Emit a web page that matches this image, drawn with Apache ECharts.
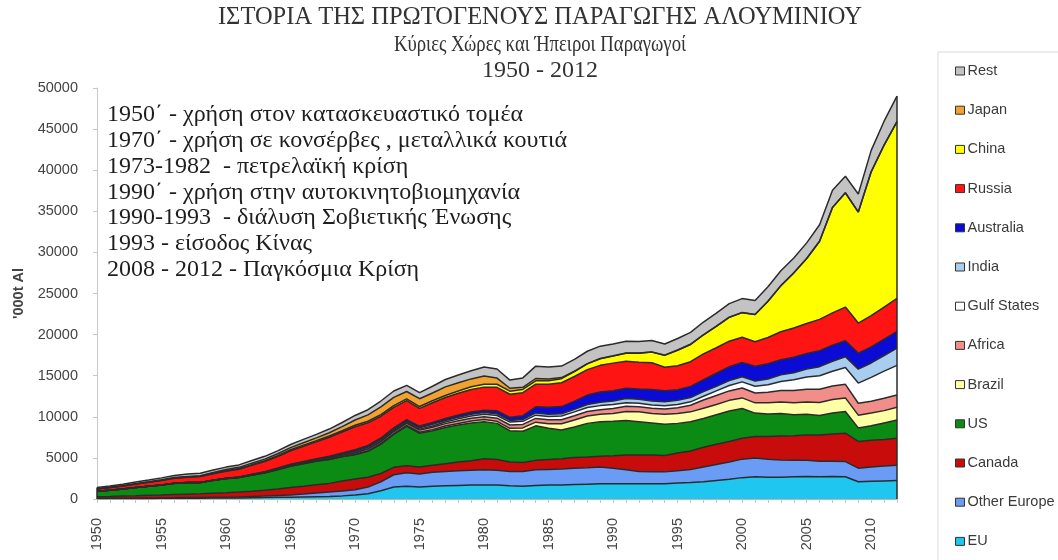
<!DOCTYPE html>
<html>
<head>
<meta charset="utf-8">
<script src="https://cdn.jsdelivr.net/npm/echarts@6/dist/echarts.min.js"></script>
<style>
  html, body { margin: 0; padding: 0; background: #fff; }
  #chart { width: 1058px; height: 560px; }
</style>
</head>
<body>
<div id="chart"></div>
<script>
// Primary aluminium production by producer, thousand tonnes
const years = ['1950','1951','1952','1953','1954','1955','1956','1957','1958','1959',
  '1960','1961','1962','1963','1964','1965','1966','1967','1968','1969',
  '1970','1971','1972','1973','1974','1975','1976','1977','1978','1979',
  '1980','1981','1982','1983','1984','1985','1986','1987','1988','1989',
  '1990','1991','1992','1993','1994','1995','1996','1997','1998','1999',
  '2000','2001','2002','2003','2004','2005','2006','2007','2008','2009',
  '2010','2011','2012'];

const eu = [50,50,60,60,70,80,90,100,100,110,
  120,130,150,170,200,220,250,280,300,380,
  480,650,1000,1450,1550,1450,1550,1600,1650,1700,
  1700,1700,1600,1550,1650,1700,1700,1750,1800,1850,
  1850,1850,1850,1850,1850,1950,2000,2100,2250,2400,
  2600,2700,2650,2650,2700,2750,2700,2750,2700,2100,
  2150,2200,2250];

const otherEurope = [30,30,40,40,50,50,60,70,80,90,
  100,120,150,180,220,270,350,450,550,600,
  650,800,1100,1500,1650,1600,1700,1750,1800,1800,
  1850,1800,1750,1800,1900,1900,1950,2000,2000,2050,
  1900,1700,1500,1450,1450,1500,1600,1800,1950,2100,
  2250,2300,2200,2100,2000,1950,1900,1850,1850,1650,
  1750,1800,1850];

const canada = [200,230,260,300,330,360,400,420,450,500,
  550,600,650,720,800,900,950,1000,1050,1200,
  1300,1200,1000,900,850,850,850,950,1050,1150,
  1350,1300,1150,1100,1150,1200,1250,1300,1300,1300,
  1500,1800,2000,2050,2000,2150,2250,2400,2450,2500,
  2550,2600,2750,2900,3000,3100,3200,3300,3450,3250,
  3250,3250,3300];

const us = [650,750,850,1000,1100,1200,1350,1400,1350,1550,
  1700,1750,1950,2100,2350,2600,2750,2850,2900,2950,
  2950,3150,3550,4000,4800,4100,4200,4400,4500,4600,
  4500,4400,3800,3800,4200,3800,3500,3700,4100,4200,
  4200,4200,4050,3900,3800,3600,3550,3500,3600,3700,
  3600,2850,2750,2750,2550,2500,2350,2550,2650,1650,
  1750,2000,2200];

const brazil = [0,0,0,0,0,10,10,10,15,20,
  20,20,20,20,25,30,30,40,40,40,
  55,80,100,110,110,120,140,170,190,240,
  260,250,300,400,450,550,750,850,900,900,
  950,1100,1200,1150,1200,1200,1200,1250,1250,1300,
  1300,1250,1350,1400,1450,1500,1600,1650,1650,1550,
  1550,1500,1550];

const africa = [0,0,0,0,0,0,0,0,0,0,
  10,20,30,40,50,60,70,100,150,180,
  200,220,240,250,250,260,280,300,320,340,
  360,380,400,420,450,480,500,520,540,560,
  600,620,620,650,650,700,800,1000,1100,1150,
  1200,1200,1300,1400,1500,1550,1600,1650,1650,1450,
  1450,1500,1500];

const gulfStates = [0,0,0,0,0,0,0,0,0,0,
  0,0,0,0,0,0,0,0,0,0,
  0,30,60,80,100,120,160,200,240,280,
  300,330,360,380,400,420,450,480,500,500,
  500,450,420,400,400,400,420,450,550,650,
  750,820,900,1100,1300,1500,1650,1800,2050,2450,
  2900,3300,3600];

const india = [0,0,0,0,0,0,0,0,0,10,
  20,20,40,50,55,60,80,100,120,130,
  160,170,170,150,130,160,200,180,200,200,
  190,200,200,210,270,260,260,300,350,400,
  430,500,500,470,480,500,530,560,550,600,
  620,620,700,800,850,950,1100,1200,1300,1700,
  1750,1900,2100];

const australia = [0,0,0,0,0,10,10,10,10,10,
  10,10,20,50,60,80,90,90,100,120,
  200,220,200,210,220,210,230,240,260,270,
  300,380,380,480,750,850,880,1000,1150,1250,
  1250,1250,1250,1400,1350,1300,1350,1450,1600,1700,
  1750,1800,1850,1850,1900,1900,1950,1950,1950,1950,
  1950,2000,2050];

const russia = [300,330,370,420,480,550,600,650,720,780,
  850,950,1080,1220,1400,1650,1850,2050,2300,2550,
  2800,2750,2650,2500,2300,2150,2400,2550,2650,2750,
  2800,2850,2800,2800,2750,2800,2900,3000,3100,3250,
  3350,3300,3250,3250,2850,2900,3000,3150,3100,3100,
  3050,3000,3200,3400,3550,3650,3800,3950,4100,3650,
  3800,3900,4000];

const china = [0,0,0,0,10,10,20,20,30,50,
  70,80,90,100,110,120,130,140,150,160,
  170,190,200,210,220,230,240,250,280,330,
  350,370,380,390,410,430,500,600,700,800,
  850,950,1100,1300,1450,1900,2100,2300,2600,2900,
  3000,3300,4400,5600,6700,7900,9500,12800,13900,13500,
  17500,19700,21500];

const japan = [20,30,40,45,50,60,70,70,80,100,
  130,150,180,200,230,260,300,340,400,500,
  650,780,950,1000,900,950,950,1050,1000,950,
  1000,750,350,250,280,220,130,40,35,35,
  35,30,20,20,20,20,20,20,20,20,
  10,10,10,10,10,10,10,10,10,10,
  10,10,10];

const rest = [150,170,180,190,210,240,260,280,300,300,
  300,300,320,340,360,380,400,420,450,500,
  550,620,700,780,750,750,820,900,950,1000,
  1100,1100,1000,1150,1500,1450,1400,1450,1500,1500,
  1450,1450,1400,1400,1350,1400,1450,1550,1600,1650,
  1700,1700,1750,1800,1800,1900,2000,2100,2000,2200,
  2600,2900,3100];

const yTicks = [0, 50000, 5000]; // min, max, step

const titleLines = [
  'ΙΣΤΟΡΙΑ ΤΗΣ ΠΡΩΤΟΓΕΝΟΥΣ ΠΑΡΑΓΩΓΗΣ ΑΛΟΥΜΙΝΙΟΥ',
  'Κύριες Χώρες και Ήπειροι Παραγωγοί',
  '1950 - 2012'
];

const notes = [
  '1950΄ - χρήση στον κατασκευαστικό τομέα',
  '1970΄ - χρήση σε κονσέρβες , μεταλλικά κουτιά',
  '1973-1982  - πετρελαϊκή κρίση',
  '1990΄ - χρήση στην αυτοκινητοβιομηχανία',
  '1990-1993  - διάλυση Σοβιετικής Ένωσης',
  '1993 - είσοδος Κίνας',
  '2008 - 2012 - Παγκόσμια Κρίση'
];

// Stack order, bottom first
const layers = [
  { name: 'EU',           data: eu,          color: '#1fc6f0' },
  { name: 'Other Europe', data: otherEurope, color: '#6a9cf5' },
  { name: 'Canada',       data: canada,      color: '#c80c0c' },
  { name: 'US',           data: us,          color: '#0b8a14' },
  { name: 'Brazil',       data: brazil,      color: '#ffffa6' },
  { name: 'Africa',       data: africa,      color: '#f18e8a' },
  { name: 'Gulf States',  data: gulfStates,  color: '#ffffff' },
  { name: 'India',        data: india,       color: '#a8cdef' },
  { name: 'Australia',    data: australia,   color: '#0b0bd6' },
  { name: 'Russia',       data: russia,      color: '#ff1414' },
  { name: 'China',        data: china,       color: '#ffff00' },
  { name: 'Japan',        data: japan,       color: '#f2a22e' },
  { name: 'Rest',         data: rest,        color: '#c3c3c3' }
];

const edgeColor = '#2b2b2b';
const lastIdx = years.length - 1;
const totalAt = i => layers.reduce((s, l) => s + l.data[i], 0);
const sansFont = '"Liberation Sans", Arial, sans-serif';
const serifFont = '"Liberation Serif", "DejaVu Serif", serif';

const series = layers.map((l, k) => ({
  name: l.name,
  type: 'line',
  stack: 'total',
  data: l.data,
  color: l.color,
  showSymbol: false,
  symbol: 'none',
  smooth: false,
  lineStyle: { color: edgeColor, width: 1.5 },
  areaStyle: { color: l.color, opacity: 1 },
  itemStyle: { color: l.color },
  z: 2,
  markLine: k === layers.length - 1 ? {
    silent: true,
    symbol: 'none',
    label: { show: false },
    lineStyle: { color: edgeColor, width: 1.5, type: 'solid' },
    data: [
      [{ coord: [years[0], 0] }, { coord: [years[0], totalAt(0)] }],
      [{ coord: [years[lastIdx], 0] }, { coord: [years[lastIdx], totalAt(lastIdx)] }]
    ]
  } : undefined
}));

// Title block: three centred lines, the middle one set narrower
const titleY = [18, 45, 71];
const titleScaleX = [1, 0.78, 1];
const titleSize = [24.5, 24, 24];
const graphics = [];
titleLines.forEach((t, i) => {
  graphics.push({
    type: 'text',
    x: 540,
    y: titleY[i],
    scaleX: titleScaleX[i],
    style: {
      text: t,
      align: 'center',
      verticalAlign: 'middle',
      fill: '#333',
      font: titleSize[i] + 'px ' + serifFont
    }
  });
});
// Milestones written over the plot
notes.forEach((t, i) => {
  graphics.push({
    type: 'text',
    x: 107,
    y: 115 + i * 25.8,
    style: {
      text: t,
      align: 'left',
      verticalAlign: 'middle',
      fill: '#1e1e1e',
      font: '24px ' + serifFont
    }
  });
});
graphics.push({
  type: 'rect',
  shape: { x: 938, y: 52, width: 140, height: 530 },
  style: { fill: 'none', stroke: '#dadada', lineWidth: 1 },
  silent: true
});

const chart = echarts.init(document.getElementById('chart'), null, { renderer: 'canvas' });
chart.setOption({
  backgroundColor: '#ffffff',
  animation: false,
  textStyle: { fontFamily: sansFont },
  graphic: graphics,
  legend: {
    orient: 'vertical',
    left: 950,
    top: 58,
    icon: 'rect',
    itemWidth: 9,
    itemHeight: 8,
    itemGap: 23.2,
    data: layers.slice().reverse().map(l => ({
      name: l.name,
      itemStyle: { color: l.color, borderColor: '#333', borderWidth: 1 }
    })),
    textStyle: {
      fontSize: 14.5,
      color: '#3a3a3a',
      lineHeight: 16,
      padding: [0, 0, 0, -2],
      fontFamily: sansFont
    },
    selectedMode: false
  },
  grid: { left: 97, right: 161, top: 88, bottom: 61, containLabel: false },
  xAxis: {
    type: 'category',
    data: years,
    boundaryGap: false,
    axisLine: { show: true, lineStyle: { color: '#b5b5b5', width: 1 } },
    axisTick: { show: true, interval: 0, length: 4, lineStyle: { color: '#c4c4c4' } },
    axisLabel: {
      interval: 4,
      rotate: 90,
      margin: 19,
      fontSize: 14.5,
      color: '#444',
      fontFamily: sansFont
    },
    splitLine: { show: false }
  },
  yAxis: {
    type: 'value',
    min: yTicks[0],
    max: yTicks[1],
    interval: yTicks[2],
    name: "'000t Al",
    nameLocation: 'middle',
    nameRotate: 90,
    nameGap: 70,
    nameTextStyle: { fontSize: 14.5, fontWeight: 'bold', color: '#444' },
    axisLine: { show: true, lineStyle: { color: '#c8c8c8', width: 1 } },
    axisTick: { show: true, length: 4, lineStyle: { color: '#c8c8c8' } },
    axisLabel: {
      fontSize: 14.5,
      color: '#444',
      margin: 19,
      formatter: v => String(v)
    },
    splitLine: { show: false }
  },
  series: series
});
</script>
</body>
</html>
